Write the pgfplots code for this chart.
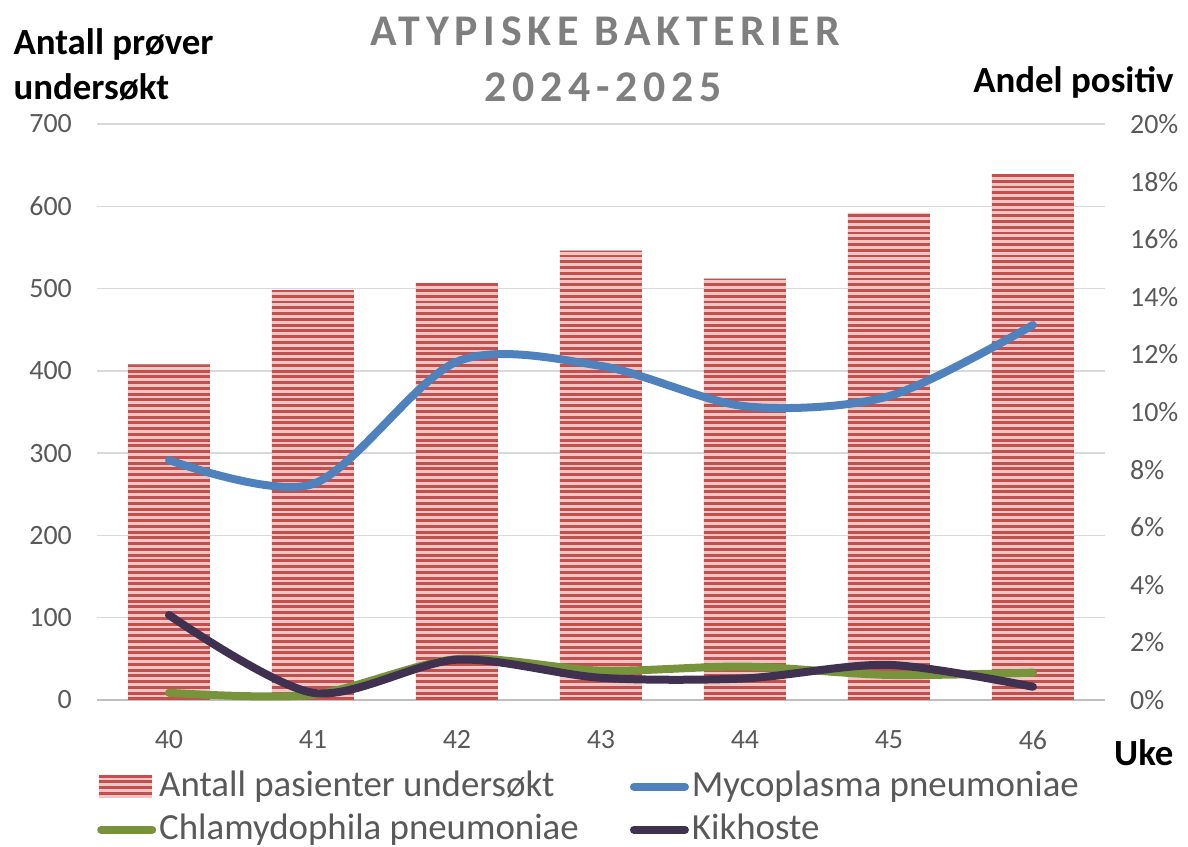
\documentclass[border=0pt]{standalone}
\usepackage{fontspec}
\setmainfont{Carlito}
\newfontfamily\titlefont[LetterSpace=13]{Carlito}
\usepackage{pgfplots}
\pgfplotsset{compat=1.18}
\definecolor{barred}{HTML}{C3504E}
\definecolor{barpink}{HTML}{F0C6C5}
\definecolor{myco}{HTML}{4F81BD}
\definecolor{chla}{HTML}{77933C}
\definecolor{kik}{HTML}{403151}
\definecolor{ticktext}{HTML}{595959}
\definecolor{gridc}{HTML}{D9D9D9}
\definecolor{axisc}{HTML}{BFBFBF}
\definecolor{titlec}{HTML}{7F7F7F}
\tikzset{stripes/.style={fill=barpink, path picture={
  \foreach \k in {0,...,#1}{
    \fill[barred, draw=none, path picture={}] ([yshift=-\k*5.75bp]path picture bounding box.north west)
      rectangle ([yshift=-\k*5.75bp-2.8bp]path picture bounding box.north east);}}}}
\pgfplotsset{linelegend/.style={legend image code/.code={\draw[##1] (2bp,0bp) -- (53bp,0bp);}}}

\pgfplotstableread{
x n
40 408
41 498
42 507
43 546
44 512
45 592
46 639
}\bars
\pgfplotstableread{
x p
40 8.33
41 7.50
42 11.75
43 11.60
44 10.20
45 10.55
46 13.02
}\myco
\pgfplotstableread{
x p
40 0.25
41 0.18
42 1.42
43 1.02
44 1.16
45 0.87
46 0.95
}\chla
\pgfplotstableread{
x p
40 2.95
41 0.25
42 1.40
43 0.77
44 0.75
45 1.22
46 0.46
}\kik

\begin{document}
\begin{tikzpicture}
\path[use as bounding box] (-97bp,-147bp) rectangle (1091bp,700bp);
\begin{axis}[
  at={(0bp,0bp)}, anchor=south west,
  scale only axis, width=1008bp, height=576bp,
  xmin=39.5, xmax=46.5, ymin=0, ymax=700,
  xtick={40,...,46}, ytick={0,100,...,700},
  axis x line*=bottom, axis y line*=left,
  y axis line style={draw=none},
  x axis line style={draw=axisc, line width=2bp},
  major tick length=0pt,
  ymajorgrids, grid style={gridc, line width=1.5bp},
  /pgf/number format/assume math mode=true,
  ticklabel style={font=\fontsize{28}{32}\selectfont, text=ticktext, inner sep=0pt},
  yticklabel style={xshift=-25bp},
  xticklabel style={yshift=-30bp},
  clip=false,
]
\addplot[ybar, bar width=82bp, draw=none, stripes=115]
  table[x=x,y=n] {\bars};
\end{axis}
\begin{axis}[
  at={(0bp,0bp)}, anchor=south west,
  scale only axis, width=1008bp, height=576bp,
  xmin=39.5, xmax=46.5, ymin=0, ymax=20,
  ytick={0,2,...,20},
  hide x axis,
  axis y line*=right,
  y axis line style={draw=none},
  major tick length=0pt,
  /pgf/number format/assume math mode=true,
  ticklabel style={font=\fontsize{28}{32}\selectfont, text=ticktext, inner sep=0pt},
  yticklabel={\pgfmathprintnumber{\tick}\%},
  yticklabel style={anchor=west, xshift=25bp},
  clip=false,
  legend columns=2,
  legend cell align=left,
  legend style={
    at={(0,0)}, anchor=north west, yshift=-69bp,
    draw=none, fill=none, inner sep=0pt,
    font=\fontsize{37}{40}\selectfont, text=ticktext,
    row sep=8bp,
    /tikz/every even column/.append style={column sep=48bp},
    nodes={inner xsep=3bp, inner ysep=0pt, text height=27bp, text depth=8bp},
  },
]
\addlegendimage{legend image code/.code={
  \path[draw=none, stripes=4] (0bp,-11bp) rectangle (53bp,12bp);}}
\addlegendentry{Antall pasienter undersøkt}
\addplot[smooth, myco, line width=8bp, line cap=round, linelegend]
  table[x=x,y=p] {\myco};
\addlegendentry{Mycoplasma pneumoniae}
\addplot[smooth, chla, line width=8bp, line cap=round, linelegend]
  table[x=x,y=p] {\chla};
\addlegendentry{Chlamydophila pneumoniae}
\addplot[smooth, kik, line width=8bp, line cap=round, linelegend]
  table[x=x,y=p] {\kik};
\addlegendentry{Kikhoste}
\end{axis}
\node[anchor=base west, font=\fontsize{37}{40}\selectfont\bfseries] at (-87bp,645bp) {Antall prøver};
\node[anchor=base west, font=\fontsize{37}{40}\selectfont\bfseries] at (-87bp,600bp) {undersøkt};
\node[anchor=base, font=\fontsize{44}{48}\titlefont\bfseries, text=titlec] at (508bp,654bp) {ATYPISKE BAKTERIER};
\node[anchor=base, font=\fontsize{44}{48}\titlefont\bfseries, text=titlec] at (506bp,598bp) {2024-2025};
\node[anchor=base east, font=\fontsize{37}{40}\selectfont\bfseries] at (1080bp,607bp) {Andel positiv};
\node[anchor=base east, font=\fontsize{37}{40}\selectfont\bfseries] at (1080bp,-65bp) {Uke};
\end{tikzpicture}
\end{document}
